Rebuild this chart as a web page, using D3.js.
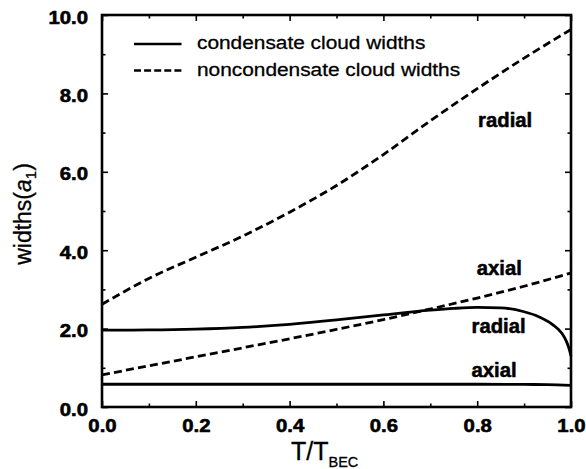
<!DOCTYPE html>
<html><head><meta charset="utf-8">
<script src="https://cdn.jsdelivr.net/npm/d3@7"></script>
<style>
html,body{margin:0;padding:0;background:#fff;}
svg{display:block;font-family:"Liberation Sans",Arial,Helvetica,sans-serif;}
</style></head><body>
<svg id="chart" width="586" height="469"></svg>
<script>
// Reduced temperature grid for the noncondensate (thermal) clouds
const tGrid = [0, 0.1, 0.2, 0.3, 0.4, 0.5, 0.6, 0.7, 0.8, 0.9, 1.0];
const thermalRadial = [2.62, 3.28, 3.82, 4.36, 4.97, 5.65, 6.44, 7.30, 8.12, 8.90, 9.63];
const thermalAxial = [0.82, 1.05, 1.28, 1.51, 1.74, 1.98, 2.23, 2.50, 2.78, 3.08, 3.42];

// Condensate widths, sampled more finely where they collapse near T_BEC
const condRadialT = [0, 0.1, 0.2, 0.3, 0.4, 0.5, 0.6, 0.7, 0.75, 0.8, 0.85, 0.9, 0.93, 0.96, 0.98, 0.99, 0.995, 1.0];
const condRadial = [1.96, 1.965, 1.985, 2.03, 2.11, 2.22, 2.35, 2.47, 2.515, 2.54, 2.53, 2.43, 2.31, 2.11, 1.89, 1.68, 1.52, 1.30];
const condAxialT = [0, 0.2, 0.4, 0.6, 0.8, 0.9, 0.95, 1.0];
const condAxial = [0.58, 0.58, 0.58, 0.58, 0.58, 0.575, 0.57, 0.55];

const xTicks = [0, 0.2, 0.4, 0.6, 0.8, 1.0];
const yTicks = [0, 2, 4, 6, 8, 10];
const xMinorTicks = [0.1, 0.3, 0.5, 0.7, 0.9];
const yMinorTicks = [1, 3, 5, 7, 9];
const legendLabels = ["condensate cloud widths", "noncondensate cloud widths"];
const curveLabels = ["radial", "axial", "radial", "axial"];

const svg = d3.select("#chart");
const x = d3.scaleLinear().domain([0, 1]).range([102, 571]);
const y = d3.scaleLinear().domain([0, 10]).range([407, 15]);

// widen glyphs slightly (the face is a touch broader than Arial)
function stretch(sel, k) {
  sel.each(function () {
    const w = this.getComputedTextLength();
    this.setAttribute("textLength", (w * k).toFixed(2));
    this.setAttribute("lengthAdjust", "spacingAndGlyphs");
  });
}
// heavier ink for the printed-looking type
function ink(sel, w) {
  sel.attr("stroke", "#000").attr("stroke-width", w).attr("stroke-linejoin", "round");
}

// ---- axes: ticks on all four sides pointing inwards ----
function styleAxis(g) {
  g.select(".domain").remove();
  g.selectAll(".tick line").attr("stroke", "#000").attr("stroke-width", 1.6);
}
const fmt = d3.format(".1f");
const major = 6, minor = 3.5;

const gB = svg.append("g").attr("transform", `translate(0,${y(0)})`)
  .call(d3.axisBottom(x).tickValues(xTicks).tickSize(-major).tickPadding(12).tickFormat(fmt));
const gBm = svg.append("g").attr("transform", `translate(0,${y(0)})`)
  .call(d3.axisBottom(x).tickValues(xMinorTicks).tickSize(-minor).tickFormat(""));
const gT = svg.append("g").attr("transform", `translate(0,${y(10)})`)
  .call(d3.axisTop(x).tickValues(xTicks).tickSize(-major).tickFormat(""));
const gTm = svg.append("g").attr("transform", `translate(0,${y(10)})`)
  .call(d3.axisTop(x).tickValues(xMinorTicks).tickSize(-minor).tickFormat(""));
const gL = svg.append("g").attr("transform", `translate(${x(0)},0)`)
  .call(d3.axisLeft(y).tickValues(yTicks).tickSize(-major).tickPadding(14).tickFormat(fmt));
const gLm = svg.append("g").attr("transform", `translate(${x(0)},0)`)
  .call(d3.axisLeft(y).tickValues(yMinorTicks).tickSize(-minor).tickFormat(""));
const gR = svg.append("g").attr("transform", `translate(${x(1)},0)`)
  .call(d3.axisRight(y).tickValues(yTicks).tickSize(-major).tickFormat(""));
const gRm = svg.append("g").attr("transform", `translate(${x(1)},0)`)
  .call(d3.axisRight(y).tickValues(yMinorTicks).tickSize(-minor).tickFormat(""));
[gB, gBm, gT, gTm, gL, gLm, gR, gRm].forEach(styleAxis);

[gB, gL].forEach(g => {
  const t = g.selectAll(".tick text")
    .attr("fill", "#000")
    .style("font-family", '"Liberation Sans", Arial, sans-serif')
    .style("font-size", "18.5px")
    .style("font-weight", "bold");
  ink(t, 0.6);
});
gL.selectAll(".tick text").attr("dy", "0.44em");
stretch(gB.selectAll(".tick text"), 1.1);
stretch(gL.selectAll(".tick text"), 1.1);

// frame
svg.append("rect")
  .attr("x", x(0)).attr("y", y(10))
  .attr("width", x(1) - x(0)).attr("height", y(0) - y(10))
  .attr("fill", "none").attr("stroke", "#000").attr("stroke-width", 2.6);

// ---- curves ----
const line = d3.line().x(d => x(d[0])).y(d => y(d[1])).curve(d3.curveMonotoneX);
const series = [
  { t: tGrid, w: thermalRadial, dash: "8,4.2" },
  { t: tGrid, w: thermalAxial, dash: "8,4.2" },
  { t: condRadialT, w: condRadial, dash: null },
  { t: condAxialT, w: condAxial, dash: null }
];
series.forEach(s => {
  svg.append("path")
    .datum(d3.zip(s.t, s.w))
    .attr("d", line)
    .attr("fill", "none")
    .attr("stroke", "#000")
    .attr("stroke-width", 2.8)
    .attr("stroke-dasharray", s.dash);
});

// ---- curve labels ----
const labelPos = [[0.802, 7.135], [0.799, 3.367], [0.788, 1.88], [0.788, 0.758]];
curveLabels.forEach((txt, i) => {
  const t = svg.append("text")
    .attr("x", x(labelPos[i][0])).attr("y", y(labelPos[i][1]))
    .attr("font-size", 19.5).attr("font-weight", "bold").attr("fill", "#000")
    .text(txt);
  ink(t, 0.5);
  stretch(t, 1.04);
});

// ---- legend ----
const legendRows = [44, 70.5];
legendLabels.forEach((txt, i) => {
  svg.append("line")
    .attr("x1", 134).attr("x2", 181.5)
    .attr("y1", legendRows[i]).attr("y2", legendRows[i])
    .attr("stroke", "#000").attr("stroke-width", 2.6)
    .attr("stroke-dasharray", i === 1 ? "7,3.1" : null);
  const t = svg.append("text")
    .attr("x", 197).attr("y", legendRows[i] + 5.3)
    .attr("font-size", 18.8).attr("fill", "#000")
    .text(txt);
  ink(t, 0.3);
  stretch(t, 1.11);
});

// ---- axis titles ----
const xt = svg.append("text")
  .attr("x", 291).attr("y", 460)
  .attr("font-size", 25).attr("fill", "#000");
ink(xt, 0.3);
xt.append("tspan").text("T/T");
xt.append("tspan").attr("font-size", 14.5).attr("dy", 6.7).text("BEC");

const yt = svg.append("text")
  .attr("transform", "translate(31,214) rotate(-90)")
  .attr("text-anchor", "middle")
  .attr("font-size", 23).attr("fill", "#000");
ink(yt, 0.3);
yt.append("tspan").text("widths(");
yt.append("tspan").attr("font-style", "italic").text("a");
yt.append("tspan").attr("font-size", 15).attr("dy", 5).text("1");
yt.append("tspan").attr("dy", -5).text(")");
</script>
</body></html>
